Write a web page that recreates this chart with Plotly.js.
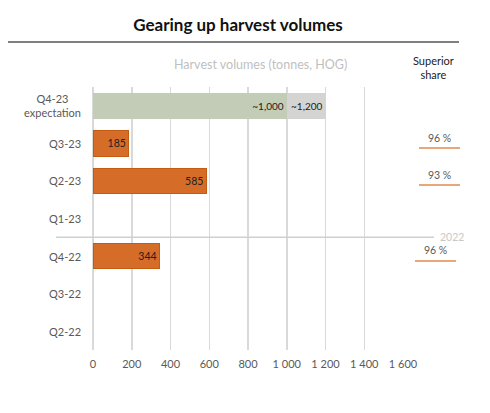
<!DOCTYPE html>
<html><head><meta charset="utf-8">
<script src="https://cdn.plot.ly/plotly-3.0.1.min.js"></script>
<style>html,body{margin:0;padding:0;background:#fff}#c{width:490px;height:413px}</style>
</head><body><div id="c"></div>
<script>
const categories = ["Q4-23 expectation","Q3-23","Q2-23","Q1-23","Q4-22","Q3-22","Q2-22"];
const categoryLabels = ["Q4-23<br>expectation","Q3-23","Q2-23","Q1-23","Q4-22","Q3-22","Q2-22"];
const actualValues = [null,185,585,null,344,null,null];
const expectationLow = [1000,null,null,null,null,null,null];
const expectationHighExtra = [200,null,null,null,null,null,null];
const expectationLabels = ["~1,000","~1,200"];
const superiorShare = [null,"96 %","93 %",null,"96 %",null,null];
const xTicks = [0,200,400,600,800,1000,1200,1400,1600];
const xTickLabels = ["0","200","400","600","800","1 000","1 200","1 400","1 600"];

const font = "Lato, 'DejaVu Sans', sans-serif";
const traces = [
  {type:'bar',orientation:'h',y:categories,x:actualValues,
   marker:{color:'#d56c27',line:{color:'#c55a11',width:1}},
   text:actualValues.map(v=>v==null?'':String(v)),textposition:'inside',insidetextanchor:'end',
   textangle:0,constraintext:'none',textfont:{color:'#222',size:10.5,family:font},hoverinfo:'skip'},
  {type:'bar',orientation:'h',y:categories,x:expectationLow,
   marker:{color:'#c3ccb6'},
   text:[expectationLabels[0],'','','','','',''],textposition:'inside',insidetextanchor:'end',
   textangle:0,constraintext:'none',textfont:{color:'#222',size:10,family:font},hoverinfo:'skip'},
  {type:'bar',orientation:'h',y:categories,x:expectationHighExtra,
   marker:{color:'#d4d4d2'},
   text:[expectationLabels[1],'','','','','',''],textposition:'inside',insidetextanchor:'end',
   textangle:0,constraintext:'none',textfont:{color:'#222',size:10,family:font},hoverinfo:'skip'}
];

const px = p => (p-93)/310;         // pixel x -> paper x
const py = p => (350-p)/263;        // pixel y -> paper y
const cy = p => (p-87)/37.57-0.5;   // pixel y -> category units

const shapes = [
  {type:'line',xref:'paper',yref:'paper',x0:px(8),x1:px(459),y0:py(42),y1:py(42),line:{color:'#7f7f7f',width:2}},
  {type:'line',xref:'paper',yref:'y',x0:px(56),x1:px(434),y0:3.5,y1:3.5,line:{color:'#d0d0d0',width:1.5}}
];
const annotations = [
  {xref:'paper',yref:'paper',x:px(260),y:py(65),xanchor:'center',yanchor:'middle',text:'Harvest volumes (tonnes, HOG)',showarrow:false,
   font:{family:font,size:12.5,color:'#bfbfbf'}},
  {xref:'paper',yref:'paper',x:px(433),y:py(68),xanchor:'center',yanchor:'middle',text:'Superior<br>share',showarrow:false,
   font:{family:font,size:11,color:'#222'}},
  {xref:'paper',yref:'y',x:px(452),y:3.5,xanchor:'center',yanchor:'middle',text:'2022',showarrow:false,
   font:{family:font,size:10.5,color:'#c8c8c8'}}
];
categories.forEach((c,i)=>{
  annotations.push({xref:'paper',yref:'y',x:px(83),y:c,xanchor:'right',yanchor:'middle',align:'center',
    text:categoryLabels[i],showarrow:false,font:{family:font,size:11,color:'#595959'}});
});
const shareTextY = [null,138,175,null,250,null,null];
const shareLineY = [null,148,185,null,261,null,null];
const shareLineX = [null,[419,460],[419,460],null,[415,456],null,null];
superiorShare.forEach((s,i)=>{
  if(s==null) return;
  const xc=(shareLineX[i][0]+shareLineX[i][1])/2;
  annotations.push({xref:'paper',yref:'y',x:px(xc),y:cy(shareTextY[i]),xanchor:'center',yanchor:'middle',text:s,showarrow:false,
    font:{family:font,size:10.5,color:'#595959'}});
  shapes.push({type:'line',xref:'paper',yref:'y',x0:px(shareLineX[i][0]),x1:px(shareLineX[i][1]),
    y0:cy(shareLineY[i]),y1:cy(shareLineY[i]),line:{color:'#e8a77a',width:2}});
});

const layout = {
  width:490,height:413,paper_bgcolor:'#fff',plot_bgcolor:'#fff',
  margin:{l:93,r:87,t:87,b:63},
  showlegend:false,barmode:'stack',bargap:0.32,
  font:{family:font,color:'#595959'},
  title:{text:'<b>Gearing up harvest volumes</b>',xref:'container',yref:'container',x:238/490,y:1-25/413,
    xanchor:'center',yanchor:'middle',font:{family:font,size:17,color:'#111'}},
  xaxis:{range:[0,1600],tickvals:xTicks,ticktext:xTickLabels,showgrid:true,gridcolor:'#d9d9d9',gridwidth:1.5,
    zeroline:true,zerolinecolor:'#d9d9d9',zerolinewidth:1.5,showline:false,ticklabelstandoff:6,
    tickfont:{size:11,color:'#595959',family:font},ticks:'',fixedrange:true},
  yaxis:{type:'category',categoryarray:categories,categoryorder:'array',autorange:'reversed',
    showgrid:false,zeroline:false,showline:false,ticks:'',showticklabels:false,fixedrange:true},
  shapes:shapes,annotations:annotations
};
Plotly.newPlot('c',traces,layout,{displayModeBar:false,staticPlot:true});
</script></body></html>
